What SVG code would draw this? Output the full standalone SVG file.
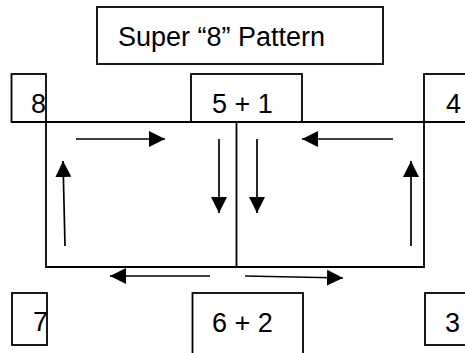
<svg xmlns="http://www.w3.org/2000/svg" width="465" height="353" viewBox="0 0 465 353">
<defs>
<marker id="ah" markerUnits="userSpaceOnUse" markerWidth="17" markerHeight="16" refX="16" refY="8" orient="auto">
<path d="M0,0 L16,8 L0,16 Z" fill="#000"/>
</marker>
<style>
.box{fill:#fff;stroke:#000;stroke-width:1.8}
.ln{fill:none;stroke:#000;stroke-width:1.8}
.ar{fill:none;stroke:#000;stroke-width:1.7;marker-end:url(#ah)}
text{font-family:"Liberation Sans",Arial,sans-serif;font-size:27px;fill:#000}
</style>
</defs>
<rect width="465" height="353" fill="#fff"/>
<g id="title"><rect class="box" x="97" y="7" width="286" height="57"/><text x="118" y="46">Super “8” Pattern</text></g>
<g id="n8"><rect class="box" x="11.5" y="74" width="34.5" height="48"/><text x="31" y="113">8</text></g>
<g id="n51"><rect class="box" x="191" y="74" width="111" height="48"/><text x="212" y="113">5 + 1</text></g>
<g id="n4"><rect class="box" x="424" y="74" width="50" height="48"/><text x="446" y="113">4</text></g>
<g id="n7"><rect class="box" x="12" y="293" width="35" height="52"/><text x="33" y="331">7</text></g>
<g id="n62"><rect class="box" x="192.5" y="293" width="110.5" height="70"/><text x="212" y="332">6 + 2</text></g>
<g id="n3"><rect class="box" x="425" y="293" width="50" height="52"/><text x="445" y="332">3</text></g>
<g id="connectors">
<path class="ln" d="M11.5,122 H465 M46,122 V267 H424 V122 M236.5,122 V267"/>
<line class="ar" x1="76" y1="139" x2="165" y2="139"/>
<line class="ar" x1="219" y1="139" x2="219" y2="213"/>
<line class="ar" x1="257" y1="139" x2="257" y2="213"/>
<line class="ar" x1="393" y1="139" x2="302" y2="139"/>
<line class="ar" x1="65" y1="246" x2="63" y2="161"/>
<line class="ar" x1="411" y1="246" x2="411" y2="161"/>
<line class="ar" x1="210" y1="276" x2="110" y2="276"/>
<line class="ar" x1="245" y1="276" x2="343" y2="278"/>
</g>
</svg>
